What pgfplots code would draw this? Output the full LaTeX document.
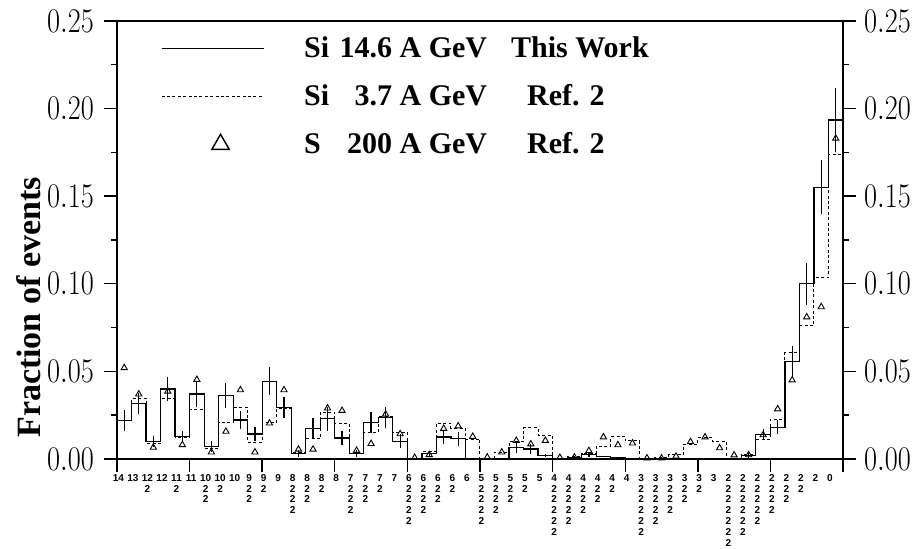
\documentclass[border=0pt]{standalone}
\usepackage{pgfplots}
\pgfplotsset{compat=1.18}
\usepackage{pgfplotstable}
\usepackage{graphicx}
\usepackage{fontspec}
\setmainfont{Liberation Serif}
\newfontfamily\xlabfont{Liberation Sans}

\pgfplotsset{
  linelegend/.style={legend image code/.code={\draw[##1] (0pt,0pt) -- (51pt,0pt);}},
  trilegend/.style={legend image code/.code={\draw[draw=none] (0pt,0pt) -- (51pt,0pt); \begin{scope}[black, solid, line width=0.7pt, shift={(29.5pt,0pt)}]\pgfsetplotmarksize{5pt}\pgfuseplotmark{triangle}\end{scope}}},
}

\pgfplotstableread{
i si14 err si37 s200
0 0.0220 0.006 0.0220 0.052
1 0.0318 0.006 0.0346 0.037
2 0.0100 0.003 0.0090 0.0066
3 0.0400 0.007 0.0343 0.0386
4 0.0128 0.003 0.0125 0.0081
5 0.0371 0.0075 0.0280 0.0453
6 0.0071 0.003 0.0062 0.0039
7 0.0362 0.0072 0.0210 0.0157
8 0.0223 0.0053 0.0295 0.0394
9 0.0143 0.004 0.0096 0.0039
10 0.0443 0.008 0.0210 0.0204
11 0.0294 0.006 0.0290 0.0394
12 0.0030 0.002 0.0035 0.0055
13 0.0172 0.006 0.0115 0.0055
14 0.0229 0.007 0.0267 0.0290
15 0.0120 0.004 0.0204 0.0276
16 0.0030 0.002 0.0030 0.0048
17 0.0207 0.006 0.0153 0.0087
18 0.0235 0.006 0.0240 0.0255
19 0.0102 0.004 0.0150 0.0143
20 0.0003 0 0.0003 0.0008
21 0.0030 0.0015 0.0040 0.0024
22 0.0126 0.004 0.0204 0.0174
23 0.0116 0.004 0.0175 0.0188
24 0.0003 0 0.0114 0.0128
25 0.0002 0 0.0003 0.0010
26 0.0005 0 0.0039 0.0039
27 0.0067 0.003 0.0099 0.0105
28 0.0057 0.003 0.0178 0.0085
29 0.0020 0.001 0.0134 0.0105
30 0.0003 0 0.0003 0.0008
31 0.0010 0 0.0012 0.0010
32 0.0024 0.001 0.0034 0.0047
33 0.0016 0 0.0074 0.0125
34 0.0010 0 0.0127 0.0080
35 0.0002 0 0.0103 0.0090
36 0.0002 0 0.0003 0.0005
37 0.0005 0 0.0008 0.0005
38 0.0005 0 0.0024 0.0015
39 0.0002 0 0.0084 0.0098
40 0.0002 0 0.0120 0.0125
41 0.0002 0 0.0098 0.0063
42 0.0002 0 0.0003 0.0022
43 0.0020 0.0015 0.0025 0.0023
44 0.0140 0.003 0.0110 0.0137
45 0.0180 0.004 0.0228 0.0285
46 0.0557 0.009 0.0605 0.0450
47 0.1001 0.012 0.0760 0.0810
48 0.1550 0.0154 0.1035 0.0868
49 0.1935 0.018 0.1740 0.1830
50 0.1935 0 0.1740 nan
}\bins

\begin{document}
\begin{tikzpicture}
\begin{axis}[
  name=ax,
  scale only axis, width=363pt, height=219pt,
  xmin=0, xmax=50, ymin=0, ymax=0.25,
  axis line style={line width=0.8pt},
  tick align=outside,
  xtick pos=bottom,
  xtick={0,5,...,50}, xticklabels={},
  major tick length=6.5pt, minor tick length=3pt,
  every tick/.style={black, line width=0.7pt},
  ytick={0,0.05,0.1,0.15,0.2,0.25},
  minor ytick={0.025,0.075,0.125,0.175,0.225},
  yticklabel={\scalebox{0.82}[1]{\pgfmathprintnumber[fixed,fixed zerofill,precision=2]{\tick}}},
  yticklabel style={font=\fontsize{18}{18}\selectfont, xshift=-1.5pt},
  extra x ticks={0.1,1.1,2.1,3.1,4.1,5.1,6.1,7.1,8.1,9.1,10.1,11.1,12.1,13.1,14.1,15.1,16.1,17.1,18.1,19.1,20.1,21.1,22.1,23.1,24.1,25.1,26.1,27.1,28.1,29.1,30.1,31.1,32.1,33.1,34.1,35.1,36.1,37.1,38.1,39.1,40.1,41.1,42.1,43.1,44.1,45.1,46.1,47.1,48.1,49.1},
  extra x tick labels={14,13,{12\\2},12,{11\\2},11,{10\\2\\2},{10\\2},10,{9\\2\\2},{9\\2},9,
    {8\\2\\2\\2},{8\\2\\2},{8\\2},8,{7\\2\\2\\2},{7\\2\\2},{7\\2},7,
    {6\\2\\2\\2\\2},{6\\2\\2\\2},{6\\2\\2},{6\\2},6,
    {5\\2\\2\\2\\2},{5\\2\\2\\2},{5\\2\\2},{5\\2},5,
    {4\\2\\2\\2\\2\\2},{4\\2\\2\\2\\2},{4\\2\\2\\2},{4\\2\\2},{4\\2},4,
    {3\\2\\2\\2\\2\\2},{3\\2\\2\\2\\2},{3\\2\\2\\2},{3\\2\\2},{3\\2},3,
    {2\\2\\2\\2\\2\\2\\2},{2\\2\\2\\2\\2\\2},{2\\2\\2\\2\\2},{2\\2\\2\\2},{2\\2\\2},{2\\2},2,0},
  extra x tick style={major tick length=0pt, tick style={draw=none},
     xticklabel style={font=\xlabfont\bfseries\fontsize{5}{5.4}\selectfont, align=center, anchor=north, inner sep=0pt, yshift=-7.5pt}},
  ylabel={Fraction of events},
  ylabel style={at={(axis description cs:-0.122,0.346)}, anchor=center, font=\bfseries\fontsize{17}{17}\selectfont},
  linelegend,
  legend style={draw=none, fill=none, at={(axis description cs:0.06,0.975)}, anchor=north west,
     font=\bfseries\fontsize{15}{15}\selectfont, row sep=8pt, inner sep=0pt, nodes={inner sep=2pt}},
  legend cell align=left,
]
\addplot[const plot mark left, line width=0.6pt, black] table[x=i,y=si14]{\bins};
\addlegendentry{\hspace{18pt}\makebox[44pt][l]{Si\hfill 14.6}\ A GeV\hspace{12pt}This Work}
\addplot[const plot mark left, line width=0.5pt, black, dash pattern=on 1.5pt off 1.2pt] table[x=i,y=si37]{\bins};
\addlegendentry{\hspace{18pt}\makebox[44pt][l]{Si\hfill 3.7}\ A GeV\hspace{20pt}Ref. 2}
\addplot[only marks, mark=triangle, mark size=1.8pt, black, mark options={line width=0.45pt}, trilegend]
  table[x expr=\thisrow{i}+0.5, y=s200]{\bins};
\addlegendentry{\hspace{18pt}\makebox[44pt][l]{S\hfill 200}\ A GeV\hspace{20pt}Ref. 2}
\addplot[forget plot, draw=none, mark=none, error bars/.cd, y dir=both, y explicit, error mark=none, error bar style={draw=black, solid, line width=0.6pt}]
  table[x expr=\thisrow{i}+0.5, y=si14, y error=err]{\bins};
\end{axis}
\begin{axis}[
  scale only axis, width=363pt, height=219pt,
  xmin=0, xmax=50, ymin=0, ymax=0.25,
  hide x axis, axis y line*=right,
  axis line style={draw=none},
  ytick={0,0.05,0.1,0.15,0.2,0.25},
  major tick length=0pt,
  yticklabel={\scalebox{0.82}[1]{\pgfmathprintnumber[fixed,fixed zerofill,precision=2]{\tick}}},
  yticklabel style={font=\fontsize{18}{18}\selectfont, xshift=7pt},
]
\end{axis}
\pgfresetboundingbox
\path ([shift={(-58.5pt,-44.75pt)}]ax.south west) rectangle ([shift={(36.5pt,10.5pt)}]ax.north east);
\end{tikzpicture}
\end{document}
